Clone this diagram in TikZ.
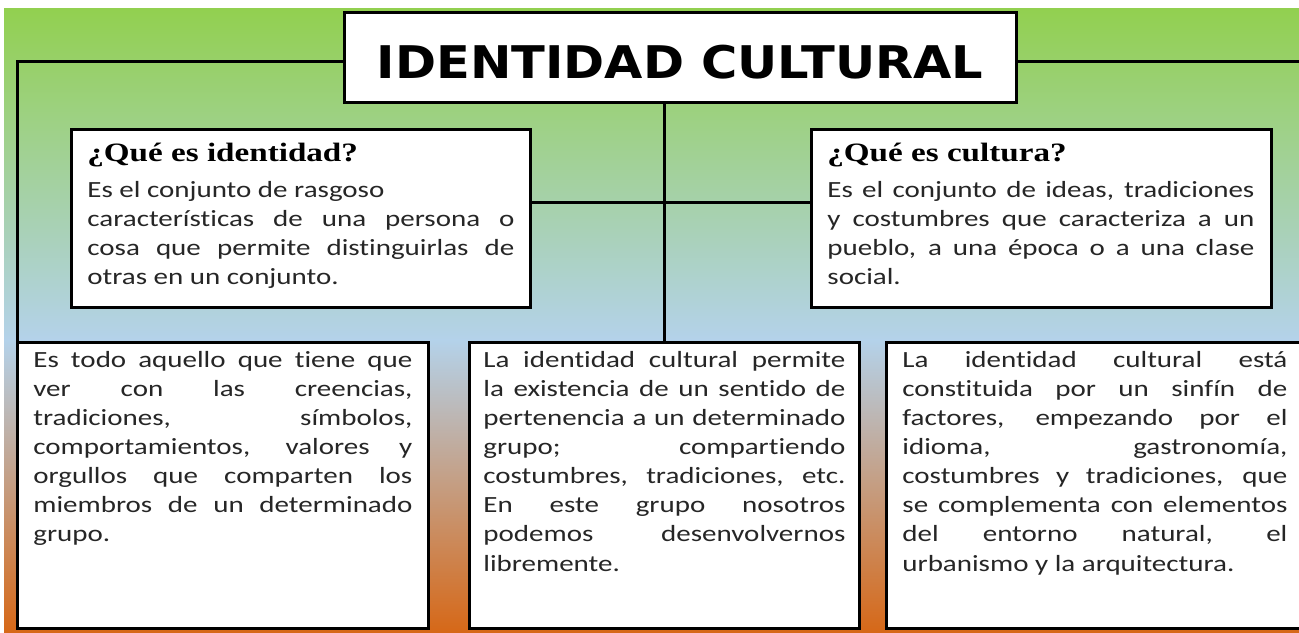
\documentclass[tikz,border=0pt]{standalone}
\usepackage{fontspec}
\setmainfont{Carlito}[FakeStretch=1.25, Ligatures=NoCommon]
\newfontfamily\headfont{Liberation Serif}[FakeStretch=1.25]
\newfontfamily\titlefont{DejaVu Sans}[FakeStretch=1.1]
\usetikzlibrary{positioning}
\definecolor{bggreen}{RGB}{146,208,80}
\definecolor{bgblue}{RGB}{180,210,234}
\definecolor{bgorange}{RGB}{214,104,24}
\newcommand{\bodyfont}{\fontsize{11.6pt}{14.5pt}\selectfont\tolerance=10000\hyphenpenalty=10000\relax}
\tikzset{
    card/.style={rectangle, draw=black, fill=white, line width=1.5pt, inner sep=0pt, outer sep=0pt, anchor=north west},
    head/.style={font=\headfont\bfseries\fontsize{13.25pt}{16pt}\selectfont, inner sep=0pt, anchor=base west},
    body/.style={font=\bodyfont, text=black!85, align=justify, inner sep=0pt, anchor=base west},
    link/.style={line width=1.5pt, black},
}

\begin{document}
\begin{tikzpicture}[x=0.5pt, y=0.5pt]

% canvas and background
\useasboundingbox (0,0) rectangle (1299,632);
\shade[top color=bggreen, bottom color=bgblue] (4,292) rectangle (1299,623);
\shade[top color=bgblue, bottom color=bgorange] (4,0) rectangle (1299,292);

% Title
\node[card, anchor=center, minimum width=336pt, minimum height=45pt, text height=21pt, text depth=0pt,
      font=\titlefont\bfseries\fontsize{22.5pt}{27pt}\selectfont] (title) at (680,574.3) {IDENTIDAD CULTURAL};

% Upper boxes
\node[card, minimum width=229.5pt, minimum height=89pt] (ident-box) at (71,502) {};
\node[head] (ident-head) at ([shift={(8pt,-16pt)}]ident-box.north west) {¿Qué es identidad?};
\node[body, text width=213.5pt] (ident-text) at ([yshift=-18pt]ident-head.base west) {Es el conjunto de rasgoso\newline
    características de una persona o\linebreak
    cosa que permite distinguirlas de\linebreak
    otras en un conjunto.};

\node[card, minimum width=230pt, minimum height=89pt] (cult-box) at (811,502) {};
\node[head] (cult-head) at ([shift={(8pt,-16pt)}]cult-box.north west) {¿Qué es cultura?};
\node[body, text width=213.5pt] (cult-text) at ([yshift=-18pt]cult-head.base west) {Es el conjunto de ideas, tradiciones\linebreak
    y costumbres que caracteriza a un\linebreak
    pueblo, a una época o a una clase\linebreak
    social.};

% Lower boxes
\node[card, minimum width=205.5pt, minimum height=142.5pt] (grupo-box) at (17,289) {};
\node[card, minimum width=195pt, minimum height=142.5pt, right=20.5pt of grupo-box] (perten-box) {};
\node[card, minimum width=208.5pt, minimum height=142.5pt, right=13.5pt of perten-box] (factor-box) {};

\node[body, text width=189.5pt] (grupo-text) at ([shift={(8pt,-12.5pt)}]grupo-box.north west) {Es todo aquello que tiene que\linebreak
    ver con las creencias,\linebreak
    tradiciones, símbolos,\linebreak
    comportamientos, valores y\linebreak
    orgullos que comparten los\linebreak
    miembros de un determinado\linebreak
    grupo.};
\node[body, text width=181pt] (perten-text) at ([shift={(7pt,-12.5pt)}]perten-box.north west) {La identidad cultural permite\linebreak
    la existencia de un sentido de\linebreak
    pertenencia a un determinado\linebreak
    grupo; compartiendo\linebreak
    costumbres, tradiciones, etc.\linebreak
    En este grupo nosotros\linebreak
    podemos desenvolvernos\linebreak
    libremente.};
\node[body, text width=192.5pt] (factor-text) at ([shift={(8pt,-12.5pt)}]factor-box.north west) {La identidad cultural está\linebreak
    constituida por un sinfín de\linebreak
    factores, empezando por el\linebreak
    idioma, gastronomía,\linebreak
    costumbres y tradiciones, que\linebreak
    se complementa con elementos\linebreak
    del entorno natural, el\linebreak
    urbanismo y la arquitectura.};

% Connectors
\coordinate (right-end) at (1310,570.3);
\draw[link] ([yshift=-2pt]title.west) -| (grupo-box.north west);
\draw[link] ([yshift=-2pt]title.east) -- (right-end);
\draw[link] (perten-box.north) -- (perten-box.north |- title.south);
\draw[link] ([yshift=-36.5pt]ident-box.north east) -- ([yshift=-36.5pt]cult-box.north west);

\end{tikzpicture}
\end{document}
